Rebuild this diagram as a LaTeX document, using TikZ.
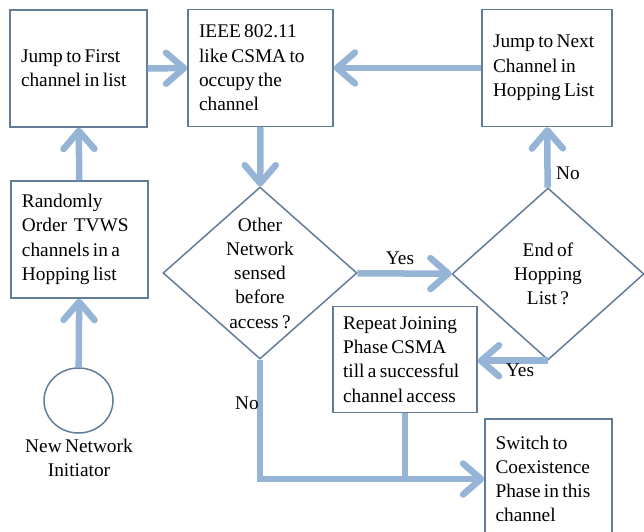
\documentclass[tikz,border=0pt]{standalone}
\usepackage{fontspec}
\setmainfont{Liberation Serif}[WordSpace=0.7]
\usepackage{tikz}
\usetikzlibrary{arrows.meta,shapes.geometric}
\definecolor{boxline}{RGB}{98,124,152}
\definecolor{flowblue}{RGB}{150,180,214}
\tikzset{
	box/.style={draw=boxline, line width=0.85pt, rectangle, align=flush left, inner sep=0.22cm, minimum height=2.34cm, font=\fontsize{11}{13.8}\selectfont},
	decision/.style={draw=boxline, line width=0.85pt, diamond, inner sep=0pt},
	txt/.style={align=center, inner sep=0pt, font=\fontsize{11}{13.8}\selectfont},
	flow/.style={draw=flowblue, line width=0.13cm, -{Straight Barb[length=0.36cm,width=0.62cm,round]}},
	link/.style={draw=flowblue, line width=0.13cm}
}
\begin{document}
\begin{tikzpicture}
	\useasboundingbox (0,0) rectangle (12.88,10.62);
	\node[box, text width=2.30cm] (first) at (1.57,9.25) {Jump to First\\channel in list};
	\node[box, text width=2.46cm] (csma) at (5.21,9.26) {IEEE 802.11\\like CSMA to\\occupy the\\channel};
	\node[box, text width=2.16cm] (next) at (10.94,9.26) {Jump to Next\\Channel in\\Hopping List};
	\node[box, text width=2.30cm] (order) at (1.59,5.83) {Randomly\\Order~~TVWS\\channels in a\\Hopping list};
	\node[draw=boxline, line width=0.85pt, ellipse, minimum width=1.38cm, minimum height=1.30cm] (init) at (1.57,2.61) {};
	\node[txt] (initlbl) at (1.58,1.46) {New Network\\Initiator};
	\node[decision, minimum width=3.88cm, minimum height=3.44cm] (sensed) at (5.20,5.16) {};
	\node[txt] (sensedtxt) at (sensed) {Other\\Network\\sensed\\before\\access ?};
	\node[decision, minimum width=3.84cm, minimum height=3.44cm] (endlist) at (10.96,5.14) {};
	\node[txt] (endlisttxt) at (endlist) {End of\\Hopping\\List ?};
	\node[box, text width=2.48cm, minimum height=2.06cm, inner sep=0.2cm] (repeat) at (8.10,3.43) {Repeat Joining\\Phase CSMA\\till a successful\\channel access};
	\node[box, text width=2.12cm, minimum height=2.40cm, inner sep=0.21cm] (switch) at (10.97,1.04) {Switch to\\Coexistence\\Phase in this\\channel};

	\draw[flow] (first) -- (csma);
	\draw[flow] (next) -- (csma);
	\draw[flow] (order) -- (first);
	\draw[flow] (init) -- (order);
	\draw[flow] (csma) -- (sensed);
	\draw[flow] (sensed) -- (endlist);
	\draw[flow] (endlist) -- (next);
	\draw[flow] (endlist.south) -- (repeat.east |- endlist.south);
	\draw[flow] (sensed.south) |- (switch.west);
	\draw[link] (repeat.south) -- (repeat.south |- switch.west);

	\node[txt] (yesright) at (8.0,5.46) {Yes};
	\node[txt] (noup) at (11.36,7.16) {No};
	\node[txt] (yesback) at (10.40,3.22) {Yes};
	\node[txt] (nodown) at (4.94,2.56) {No};
\end{tikzpicture}
\end{document}
